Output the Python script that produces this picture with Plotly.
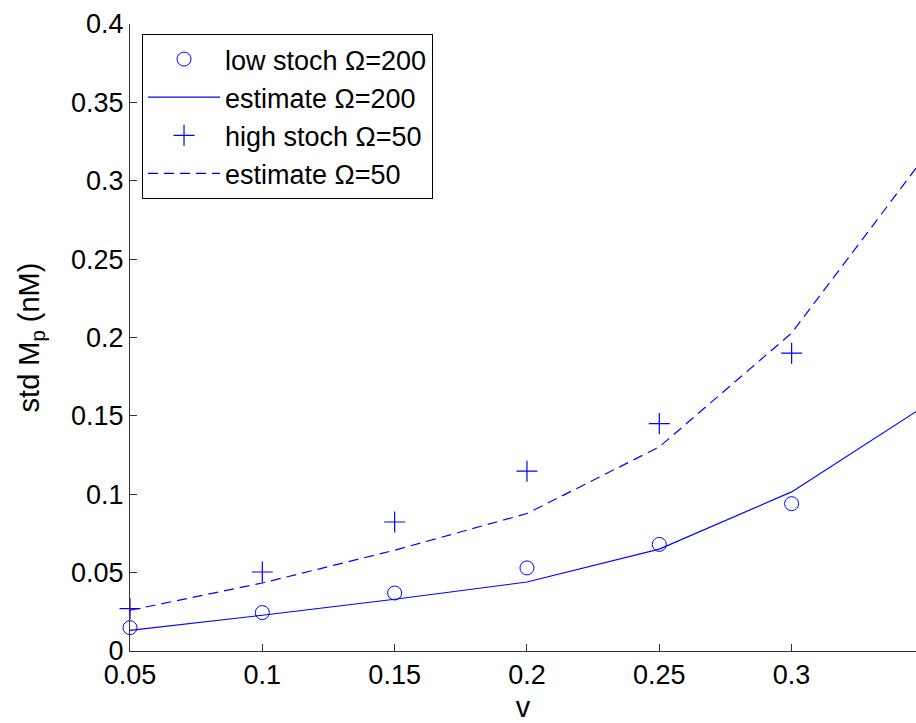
import plotly.graph_objects as go

v = [0.05, 0.1, 0.15, 0.2, 0.25, 0.3, 0.35]
low_stoch_200 = [0.0149, 0.0245, 0.037, 0.053, 0.068, 0.094, 0.131]
estimate_200 = [0.0132, 0.0228, 0.033, 0.044, 0.065, 0.1015, 0.156]
high_stoch_50 = [0.027, 0.0504, 0.0823, 0.1147, 0.1451, 0.19, 0.22]
estimate_50 = [0.026, 0.0434, 0.0643, 0.0877, 0.1302, 0.2028, 0.3147]

x_ticks = [0.05, 0.1, 0.15, 0.2, 0.25, 0.3]
x_tick_labels = ["0.05", "0.1", "0.15", "0.2", "0.25", "0.3"]
y_ticks = [0, 0.05, 0.1, 0.15, 0.2, 0.25, 0.3, 0.35, 0.4]
y_tick_labels = ["0", "0.05", "0.1", "0.15", "0.2", "0.25", "0.3", "0.35", "0.4"]

BLUE = "#0000ff"
FONT = "Liberation Sans, Arial, sans-serif"

fig = go.Figure()
fig.add_trace(go.Scatter(
    x=v, y=low_stoch_200, mode="markers", name="low stoch Ω=200",
    marker=dict(symbol="circle-open", size=14, color=BLUE, line=dict(width=1, color=BLUE)),
    cliponaxis=False))
fig.add_trace(go.Scatter(
    x=v, y=estimate_200, mode="lines", name="estimate Ω=200",
    line=dict(color=BLUE, width=1.2)))
fig.add_trace(go.Scatter(
    x=v, y=high_stoch_50, mode="markers", name="high stoch Ω=50",
    marker=dict(symbol="cross-thin-open", size=15, color=BLUE, line=dict(width=1.2, color=BLUE)),
    cliponaxis=False))
fig.add_trace(go.Scatter(
    x=v, y=estimate_50, mode="lines", name="estimate Ω=50",
    line=dict(color=BLUE, width=1.2, dash="10px,6px")))

fig.update_layout(
    width=916, height=723,
    margin=dict(l=130, r=0, t=24, b=72),
    paper_bgcolor="white", plot_bgcolor="white",
    font=dict(family=FONT, size=27, color="black"),
    showlegend=True,
    legend=dict(
        x=0.0153, y=0.984, xanchor="left", yanchor="top",
        bordercolor="black", borderwidth=1, bgcolor="white",
        font=dict(family=FONT, size=27, color="black"),
        itemwidth=72, tracegroupgap=0,
    ),
    xaxis=dict(
        range=[0.05, 0.347], tickvals=x_ticks, ticktext=x_tick_labels,
        ticks="inside", ticklen=7, tickcolor="#333333", tickwidth=1,
        showline=True, linecolor="#333333", linewidth=1,
        showgrid=False, zeroline=False, automargin=False,
        title=dict(text="v", font=dict(family=FONT, size=29), standoff=15),
        tickfont=dict(family=FONT, size=27),
    ),
    yaxis=dict(
        range=[0, 0.4], tickvals=y_ticks, ticktext=y_tick_labels,
        ticks="inside", ticklen=7, tickcolor="#333333", tickwidth=1,
        showline=True, linecolor="#333333", linewidth=1,
        showgrid=False, zeroline=False, automargin=False,
        title=dict(text="std M<sub>p</sub> (nM)", font=dict(family=FONT, size=29), standoff=22),
        tickfont=dict(family=FONT, size=27),
    ),
)

fig.write_html("out.html")
